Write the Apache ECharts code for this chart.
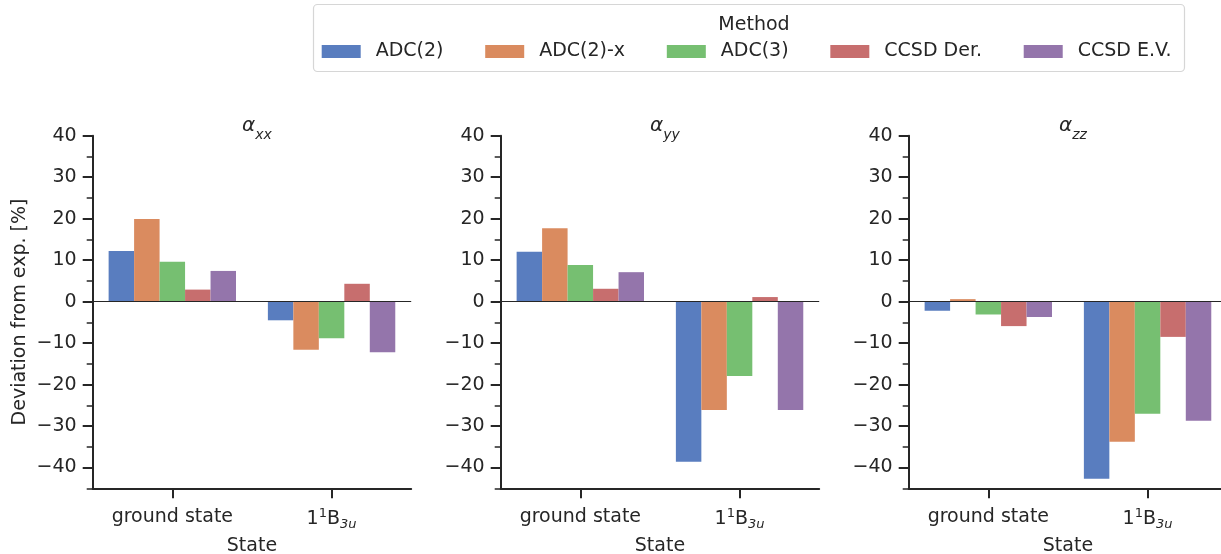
<!DOCTYPE html>
<html>
<head>
<meta charset="utf-8">
<script src="https://cdn.jsdelivr.net/npm/echarts@6/dist/echarts.min.js"></script>
<style>
  html, body { margin: 0; padding: 0; background: #fff; }
  #chart { width: 1221px; height: 554px; }
</style>
</head>
<body>
<div id="chart"></div>
<script>
// categories and methods
const states = ['ground state', '1¹B₃ᵤ'];
const methods = ['ADC(2)', 'ADC(2)-x', 'ADC(3)', 'CCSD Der.', 'CCSD E.V.'];
const panelSubs = ['xx', 'yy', 'zz'];

// deviation from exp. [%], one row per method, [ground state, 1^1B_3u]
const alphaXX = [[12.2, -4.5], [19.9, -11.6], [9.6, -8.8], [2.9, 4.3], [7.4, -12.2]];
const alphaYY = [[12.0, -38.6], [17.7, -26.1], [8.8, -17.9], [3.1, 1.1], [7.1, -26.1]];
const alphaZZ = [[-2.2, -42.7], [0.6, -33.8], [-3.1, -27.0], [-5.9, -8.5], [-3.7, -28.7]];
const panels = [alphaXX, alphaYY, alphaZZ];

// tick values
const majorTicks = [-40, -30, -20, -10, 0, 10, 20, 30, 40];
const minorTicks = [-45, -35, -25, -15, -5, 5, 15, 25, 35];

const colors = ['#597DBF', '#DA8B5F', '#76BF71', '#C76E6E', '#9475AB'];
const ink = '#262626';
const font = 'DejaVu Sans';

const gridLefts = [92.7, 500.7, 908.7];
const gridW = 318.5;
const gridTop = 135.7;
const gridH = 352.6;

let grids = [], xAxes = [], yAxes = [], series = [], titles = [];

panels.forEach(function (rows, p) {
  grids.push({
    left: gridLefts[p], top: gridTop, width: gridW, height: gridH,
    containLabel: false, outerBoundsMode: 'none'
  });

  titles.push({
    text: '{a|α}{s|' + panelSubs[p] + '}',
    left: gridLefts[p] + gridW / 2,
    top: 111,
    textAlign: 'center',
    textStyle: {
      fontWeight: 'normal',
      rich: {
        a: { fontFamily: font, fontStyle: 'italic', fontWeight: 'normal', fontSize: 20, color: ink, lineHeight: 26, verticalAlign: 'top' },
        s: { fontFamily: font, fontStyle: 'italic', fontWeight: 'normal', fontSize: 14, color: ink, verticalAlign: 'bottom' }
      }
    }
  });

  xAxes.push({
    type: 'category',
    gridIndex: p,
    data: states,
    boundaryGap: true,
    name: 'State',
    nameLocation: 'middle',
    nameGap: 46,
    nameTextStyle: { fontFamily: font, fontSize: 19, color: ink },
    axisLine: { onZero: false, lineStyle: { color: ink, width: 2 } },
    axisTick: { show: true, interval: 0, alignWithLabel: true, length: 10, lineStyle: { color: ink, width: 2 } },
    axisLabel: {
      interval: 0,
      margin: 19,
      fontFamily: font,
      fontSize: 19,
      color: ink,
      formatter: function (v, i) {
        return i === 0 ? v : '{n|1}{sup|1}{n|B}{sub|3u}';
      },
      rich: {
        n: { fontFamily: font, fontSize: 19, color: ink, lineHeight: 24 },
        sup: { fontFamily: font, fontSize: 13, color: ink, verticalAlign: 'top', lineHeight: 13 },
        sub: { fontFamily: font, fontSize: 13, fontStyle: 'italic', color: ink, verticalAlign: 'bottom', lineHeight: 13 }
      }
    },
    splitLine: { show: false }
  });

  // major ticks + labels
  yAxes.push({
    type: 'value',
    gridIndex: p,
    min: -45,
    max: 40,
    position: 'left',
    name: p === 0 ? 'Deviation from exp. [%]' : '',
    nameLocation: 'middle',
    nameGap: 63,
    nameTextStyle: { fontFamily: font, fontSize: 19, color: ink },
    axisLine: { show: true, lineStyle: { color: ink, width: 2 } },
    axisTick: { show: true, length: 10, customValues: majorTicks, lineStyle: { color: ink, width: 2 } },
    axisLabel: {
      margin: 16,
      fontFamily: font,
      fontSize: 19,
      color: ink,
      customValues: majorTicks,
      formatter: function (v) { return String(v).replace('-', '\u2212'); }
    },
    splitLine: { show: false }
  });
  // minor ticks
  yAxes.push({
    type: 'value',
    gridIndex: p,
    min: -45,
    max: 40,
    position: 'left',
    axisLine: { show: false },
    axisTick: { show: true, length: 6, customValues: minorTicks, lineStyle: { color: ink, width: 1.5 } },
    axisLabel: { show: false },
    splitLine: { show: false }
  });

  rows.forEach(function (vals, m) {
    const s = {
      name: methods[m],
      type: 'bar',
      xAxisIndex: p,
      yAxisIndex: p * 2,
      data: vals,
      barGap: '0%',
      barCategoryGap: '20%',
      itemStyle: { color: colors[m] },
      silent: true
    };
    if (m === 0) {
      s.markLine = {
        silent: true,
        symbol: 'none',
        label: { show: false },
        lineStyle: { color: ink, width: 1.2, type: 'solid' },
        data: [{ yAxis: 0 }]
      };
    }
    series.push(s);
  });
});

titles.push({
  text: 'Method',
  left: 749,
  top: 11,
  textAlign: 'center',
  textStyle: { fontFamily: font, fontSize: 19, fontWeight: 'normal', color: ink }
});

const chart = echarts.init(document.getElementById('chart'), null, { renderer: 'canvas' });
chart.setOption({
  animation: false,
  backgroundColor: '#fff',
  title: titles,
  graphic: [{
    type: 'rect',
    z: -1,
    shape: { x: 313.5, y: 4.5, width: 871, height: 67, r: 4 },
    style: { fill: '#fff', stroke: '#d6d6d6', lineWidth: 1.2 }
  }],
  legend: {
    data: methods,
    left: 321.7,
    top: 42,
    padding: 0,
    icon: 'rect',
    itemWidth: 39,
    itemHeight: 13,
    itemGap: 41.7,
    textStyle: { fontFamily: font, fontSize: 19, color: ink, padding: [0, 0, 0, 10] }
  },
  grid: grids,
  xAxis: xAxes,
  yAxis: yAxes,
  series: series
});
</script>
</body>
</html>
